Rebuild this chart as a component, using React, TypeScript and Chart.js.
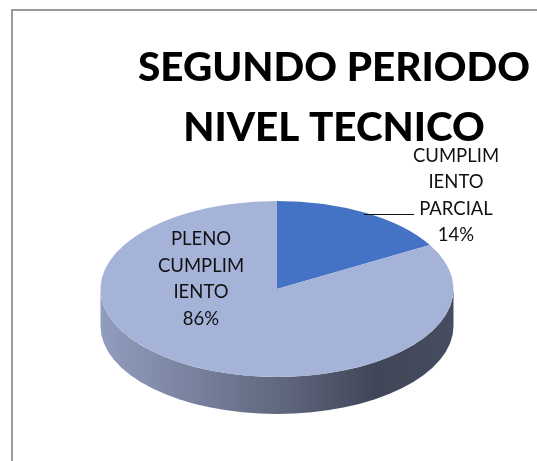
import React, { useEffect, useRef } from "react";
import { Chart, registerables } from "chart.js";

Chart.register(...registerables);

const categories = ["CUMPLIMIENTO PARCIAL", "PLENO CUMPLIMIENTO"];
const values = [14, 86];
const percentLabels = ["14%", "86%"];
const wrappedLabels = [
  ["CUMPLIM", "IENTO", "PARCIAL"],
  ["PLENO", "CUMPLIM", "IENTO"],
];
const titleLines = ["SEGUNDO PERIODO", "NIVEL TECNICO"];
const sliceColors = ["#4472C4", "#A5B3D9"];

const FONT = "Lato, Carlito, Calibri, sans-serif";
const RX = 176.5;
const RY = 88;
const CX = 277;
const CY = 289;
const DEPTH = 37;
const TITLE_CENTER = 334;
const WARP = 0.2175; // perspective foreshortening of slice angles
const LABEL_POS = [
  { x: 456, y: 156 },
  { x: 201, y: 239.5 },
];
const LABEL_LINE = 26.5;

const pie3d = {
  id: "pie3d",
  afterLayout(chart: any) {
    const t = chart.titleBlock;
    if (t) {
      const half = (t.right - t.left) / 2;
      t.left = TITLE_CENTER - half;
      t.right = TITLE_CENTER + half;
    }
  },
  beforeDatasetsDraw(chart: any) {
    const ctx = chart.ctx;
    const arcs = chart.getDatasetMeta(0).data;
    for (const a of arcs) {
      const w = (v: number) => {
        const th = v + Math.PI / 2;
        return th + WARP * Math.sin(th) - Math.PI / 2;
      };
      if (!a.$warped) {
        a.startAngle = w(a.startAngle);
        a.endAngle = w(a.endAngle);
        a.$warped = true;
      }
    }
    const sy = RY / RX;
    ctx.save();
    const g = ctx.createLinearGradient(CX - RX, 0, CX + RX, 0);
    g.addColorStop(0, "#919DBF");
    g.addColorStop(0.25, "#79839F");
    g.addColorStop(0.55, "#5C6379");
    g.addColorStop(0.78, "#3F4658");
    g.addColorStop(1, "#464D60");
    ctx.fillStyle = g;
    ctx.beginPath();
    ctx.ellipse(CX, CY + DEPTH, RX, RY, 0, 0, Math.PI);
    ctx.lineTo(CX - RX, CY);
    ctx.ellipse(CX, CY, RX, RY, 0, Math.PI, 0, true);
    ctx.closePath();
    ctx.fill();
    ctx.restore();

    ctx.save();
    const first = arcs[0];
    ctx.translate(CX, CY);
    ctx.scale(1, sy);
    ctx.translate(-first.x, -first.y);
  },
  afterDatasetsDraw(chart: any) {
    const ctx = chart.ctx;
    ctx.restore();
    ctx.save();
    ctx.strokeStyle = "#111111";
    ctx.lineWidth = 1;
    ctx.beginPath();
    ctx.moveTo(364, 214.5);
    ctx.lineTo(414, 214.5);
    ctx.stroke();
    ctx.fillStyle = "#111111";
    ctx.font = `18.5px ${FONT}`;
    ctx.textAlign = "center";
    ctx.textBaseline = "middle";
    wrappedLabels.forEach((lines, i) => {
      const all = [...lines, percentLabels[i]];
      all.forEach((s, j) => {
        ctx.fillText(s, LABEL_POS[i].x, LABEL_POS[i].y + j * LABEL_LINE);
      });
    });
    ctx.restore();
  },
};

export default function App() {
  const ref = useRef<HTMLCanvasElement>(null);
  useEffect(() => {
    document.body.style.margin = "0";
    const chart = new Chart(ref.current as HTMLCanvasElement, {
      type: "pie",
      data: {
        labels: categories,
        datasets: [
          {
            data: values,
            backgroundColor: sliceColors,
            borderWidth: 0,
          },
        ],
      },
      options: {
        responsive: false,
        animation: false,
        events: [],
        radius: RX,
        layout: { padding: { top: 38 } },
        plugins: {
          legend: { display: false },
          tooltip: { enabled: false },
          title: {
            display: true,
            text: titleLines,
            color: "#000000",
            font: { family: FONT, size: 40.4, weight: "900", lineHeight: 1.49 },
            padding: { top: 0, bottom: 0 },
          },
        },
      } as any,
      plugins: [pie3d],
    });
    return () => chart.destroy();
  }, []);
  return (
    <div style={{ position: "fixed", left: 0, top: 0, width: 537, height: 461, background: "#fff", overflow: "hidden" }}>
      <div style={{ position: "absolute", left: 11, top: 9, width: 540, height: 470, border: "2px solid #9a9a9a" }} />
      <canvas ref={ref} width={537} height={461} style={{ position: "absolute", left: 0, top: 0, display: "block" }} />
    </div>
  );
}
